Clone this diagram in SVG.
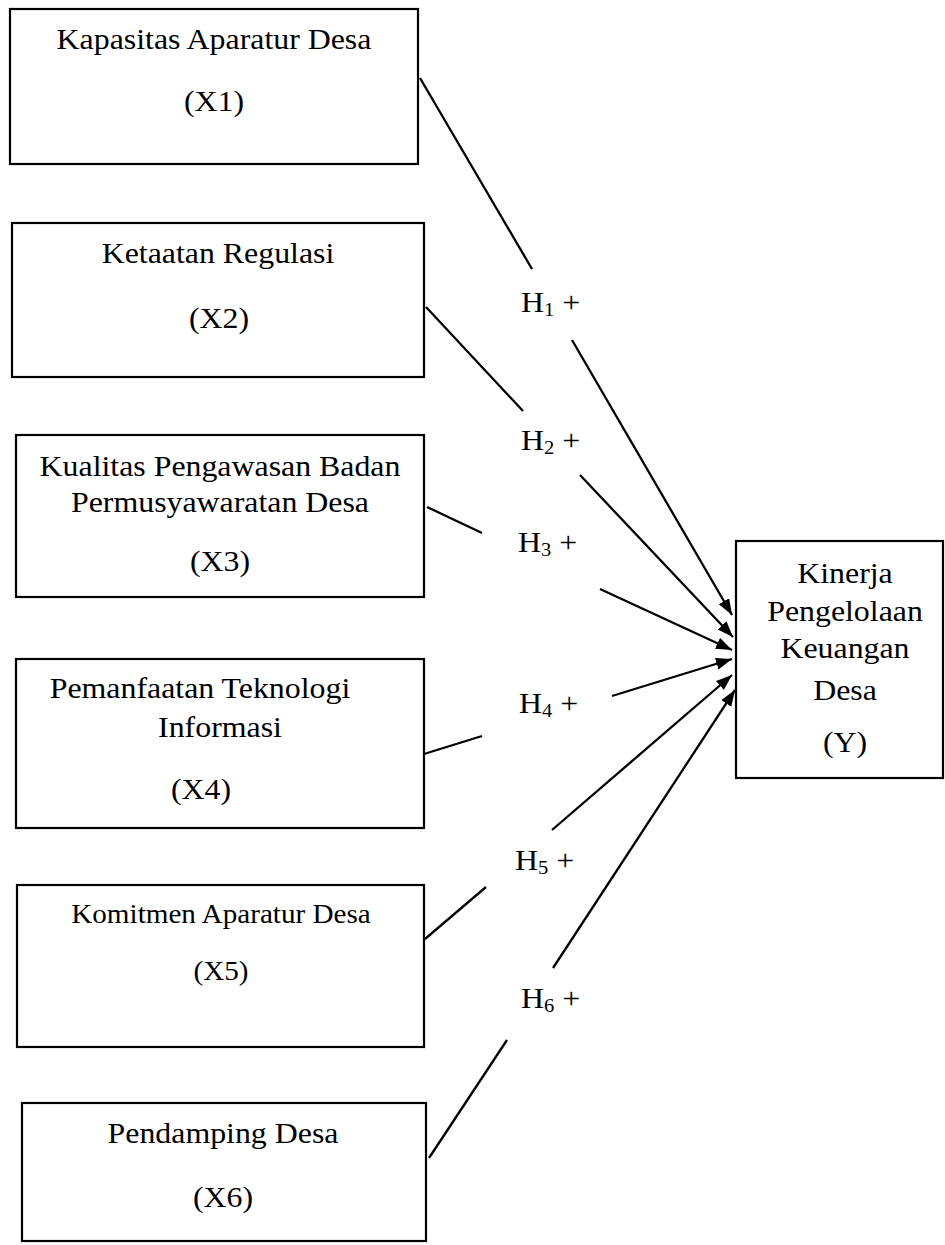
<svg xmlns="http://www.w3.org/2000/svg" width="945" height="1245" viewBox="0 0 945 1245">
<style>
  .box { fill: #ffffff; stroke: #000000; stroke-width: 2.2; }
  .t { font-family: "Liberation Serif", "Times New Roman", serif; font-size: 29.5px; fill: #000000; text-anchor: middle; }
  .ts { font-size: 27px; }
  .h { font-family: "Liberation Serif", "Times New Roman", serif; font-size: 29.5px; fill: #000000; }
  .sub { font-size: 19px; }
  .c { stroke: #000000; stroke-width: 2.3; fill: none; }
</style>
<defs>
  <marker id="arr" markerUnits="userSpaceOnUse" markerWidth="18" markerHeight="14" refX="16" refY="6" orient="auto">
    <path d="M0,0 L16,6 L0,12 z" fill="#000000"/>
  </marker>
</defs>
<rect width="945" height="1245" fill="#ffffff"/>

<g id="connectors">
  <line class="c" x1="420" y1="78" x2="532" y2="269"/>
  <line class="c" x1="572" y1="340" x2="732" y2="615" marker-end="url(#arr)"/>
  <line class="c" x1="426" y1="307" x2="523" y2="411"/>
  <line class="c" x1="580" y1="475" x2="733" y2="637" marker-end="url(#arr)"/>
  <line class="c" x1="427" y1="507" x2="482" y2="533"/>
  <line class="c" x1="600" y1="589" x2="732" y2="650" marker-end="url(#arr)"/>
  <line class="c" x1="424" y1="754" x2="482" y2="736"/>
  <line class="c" x1="612" y1="696" x2="732" y2="659" marker-end="url(#arr)"/>
  <line class="c" x1="425" y1="939" x2="486" y2="887"/>
  <line class="c" x1="552" y1="830" x2="732" y2="675" marker-end="url(#arr)"/>
  <line class="c" x1="429" y1="1158" x2="507" y2="1040"/>
  <line class="c" x1="553" y1="968" x2="735" y2="690" marker-end="url(#arr)"/>
</g>

<g id="labels">
  <text class="h" transform="translate(521 312) scale(1.08 1)">H<tspan class="sub" dy="4">1</tspan><tspan dy="-4"> +</tspan></text>
  <text class="h" transform="translate(521 450) scale(1.08 1)">H<tspan class="sub" dy="4">2</tspan><tspan dy="-4"> +</tspan></text>
  <text class="h" transform="translate(518 552) scale(1.08 1)">H<tspan class="sub" dy="4">3</tspan><tspan dy="-4"> +</tspan></text>
  <text class="h" transform="translate(519 713) scale(1.08 1)">H<tspan class="sub" dy="4">4</tspan><tspan dy="-4"> +</tspan></text>
  <text class="h" transform="translate(515 870) scale(1.08 1)">H<tspan class="sub" dy="4">5</tspan><tspan dy="-4"> +</tspan></text>
  <text class="h" transform="translate(521 1008) scale(1.08 1)">H<tspan class="sub" dy="4">6</tspan><tspan dy="-4"> +</tspan></text>
</g>

<g id="node-x1">
  <rect class="box" x="10" y="9" width="408" height="155"/>
  <text class="t" transform="translate(214 49) scale(1.08 1)">Kapasitas Aparatur Desa</text>
  <text class="t" transform="translate(214 111) scale(1.08 1)">(X1)</text>
</g>

<g id="node-x2">
  <rect class="box" x="12" y="223" width="412" height="154"/>
  <text class="t" transform="translate(218 263) scale(1.08 1)">Ketaatan Regulasi</text>
  <text class="t" transform="translate(219 328) scale(1.08 1)">(X2)</text>
</g>

<g id="node-x3">
  <rect class="box" x="16" y="435" width="408" height="162"/>
  <text class="t" transform="translate(220 476) scale(1.08 1)">Kualitas Pengawasan Badan</text>
  <text class="t" transform="translate(220 512) scale(1.08 1)">Permusyawaratan Desa</text>
  <text class="t" transform="translate(220 571) scale(1.08 1)">(X3)</text>
</g>

<g id="node-x4">
  <rect class="box" x="16" y="659" width="408" height="169"/>
  <text class="t" transform="translate(200 698) scale(1.08 1)">Pemanfaatan Teknologi</text>
  <text class="t" transform="translate(220 737) scale(1.08 1)">Informasi</text>
  <text class="t" transform="translate(201 799) scale(1.08 1)">(X4)</text>
</g>

<g id="node-x5">
  <rect class="box" x="17" y="885" width="407" height="162"/>
  <text class="t ts" transform="translate(221 923) scale(1.08 1)">Komitmen Aparatur Desa</text>
  <text class="t ts" transform="translate(221 980) scale(1.08 1)">(X5)</text>
</g>

<g id="node-x6">
  <rect class="box" x="22" y="1103" width="404" height="138"/>
  <text class="t" transform="translate(223 1143) scale(1.08 1)">Pendamping Desa</text>
  <text class="t" transform="translate(223 1207) scale(1.08 1)">(X6)</text>
</g>

<g id="node-y">
  <rect class="box" x="736" y="541" width="207" height="237"/>
  <text class="t" transform="translate(845 583) scale(1.08 1)">Kinerja</text>
  <text class="t" transform="translate(845 621) scale(1.08 1)">Pengelolaan</text>
  <text class="t" transform="translate(845 658) scale(1.08 1)">Keuangan</text>
  <text class="t" transform="translate(845 700) scale(1.08 1)">Desa</text>
  <text class="t" transform="translate(845 752) scale(1.08 1)">(Y)</text>
</g>
</svg>
